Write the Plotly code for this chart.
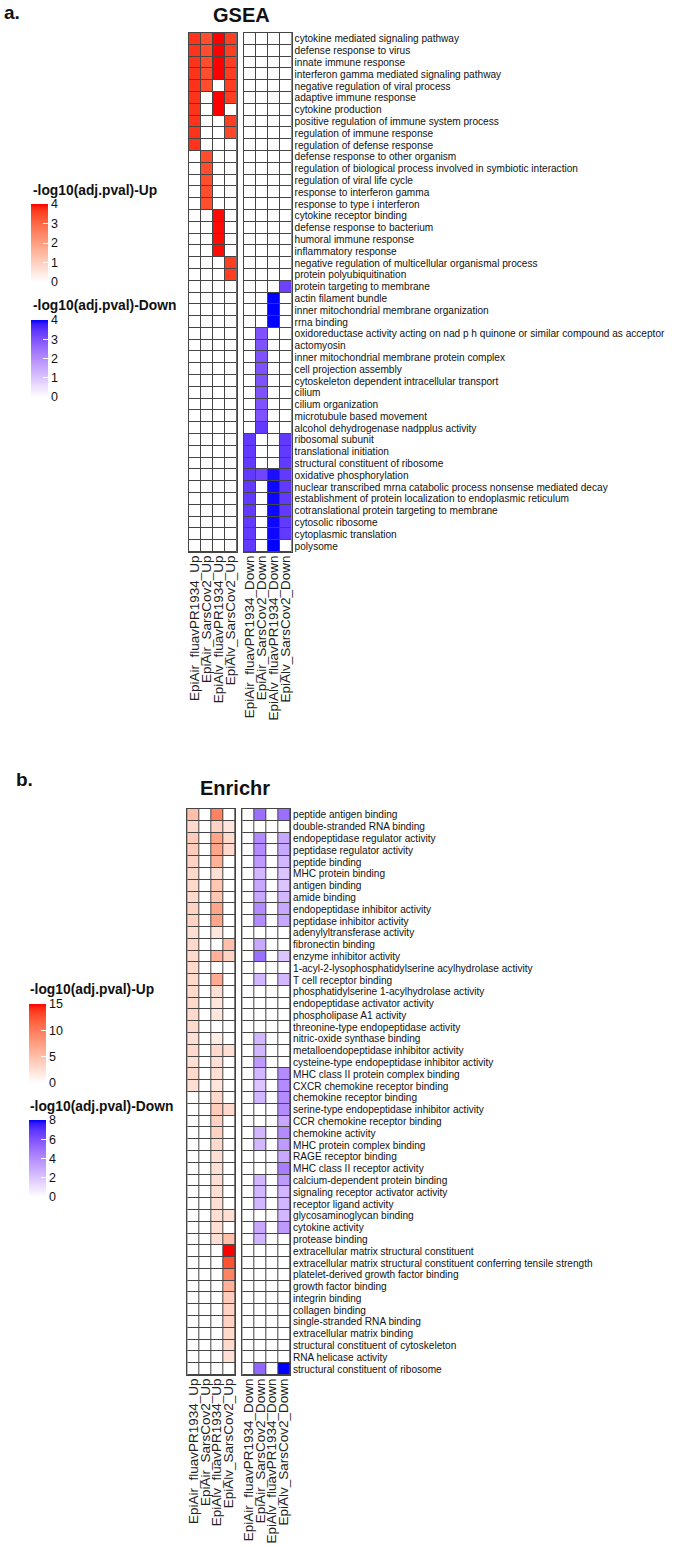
import plotly.graph_objects as go

# ---------------- DATA ----------------
GSEA_TERMS = [
    "cytokine mediated signaling pathway", "defense response to virus", "innate immune response",
    "interferon gamma mediated signaling pathway", "negative regulation of viral process",
    "adaptive immune response", "cytokine production", "positive regulation of immune system process",
    "regulation of immune response", "regulation of defense response", "defense response to other organism",
    "regulation of biological process involved in symbiotic interaction", "regulation of viral life cycle",
    "response to interferon gamma", "response to type i interferon", "cytokine receptor binding",
    "defense response to bacterium", "humoral immune response", "inflammatory response",
    "negative regulation of multicellular organismal process", "protein polyubiquitination",
    "protein targeting to membrane", "actin filament bundle", "inner mitochondrial membrane organization",
    "rrna binding", "oxidoreductase activity acting on nad p h quinone or similar compound as acceptor",
    "actomyosin", "inner mitochondrial membrane protein complex", "cell projection assembly",
    "cytoskeleton dependent intracellular transport", "cilium", "cilium organization",
    "microtubule based movement", "alcohol dehydrogenase nadpplus activity", "ribosomal subunit",
    "translational initiation", "structural constituent of ribosome", "oxidative phosphorylation",
    "nuclear transcribed mrna catabolic process nonsense mediated decay",
    "establishment of protein localization to endoplasmic reticulum",
    "cotranslational protein targeting to membrane", "cytosolic ribosome", "cytoplasmic translation",
    "polysome",
]
UP_COLS = ["EpiAir_fluavPR1934_Up", "EpiAir_SarsCov2_Up", "EpiAlv_fluavPR1934_Up", "EpiAlv_SarsCov2_Up"]
DOWN_COLS = ["EpiAir_fluavPR1934_Down", "EpiAir_SarsCov2_Down", "EpiAlv_fluavPR1934_Down", "EpiAlv_SarsCov2_Down"]

GSEA_UP = [
    [3.7, 3.4, 4.0, 3.6], [3.7, 3.4, 4.0, 3.6], [3.7, 3.4, 4.0, 3.6], [3.7, 3.4, 4.0, 3.6],
    [3.7, 3.4, 0, 3.6], [3.7, 0, 4.0, 3.6], [3.7, 0, 4.0, 0], [3.7, 0, 0, 3.6],
    [3.7, 0, 0, 3.5], [3.7, 0, 0, 0],
    [0, 3.4, 0, 0], [0, 3.4, 0, 0], [0, 3.4, 0, 0], [0, 3.4, 0, 0], [0, 3.4, 0, 0],
    [0, 0, 3.95, 0], [0, 0, 3.95, 0], [0, 0, 3.95, 0], [0, 0, 3.95, 0],
    [0, 0, 0, 3.6], [0, 0, 0, 3.6],
    [0, 0, 0, 0], [0, 0, 0, 0], [0, 0, 0, 0], [0, 0, 0, 0], [0, 0, 0, 0], [0, 0, 0, 0],
    [0, 0, 0, 0], [0, 0, 0, 0], [0, 0, 0, 0], [0, 0, 0, 0], [0, 0, 0, 0], [0, 0, 0, 0],
    [0, 0, 0, 0], [0, 0, 0, 0], [0, 0, 0, 0], [0, 0, 0, 0], [0, 0, 0, 0], [0, 0, 0, 0],
    [0, 0, 0, 0], [0, 0, 0, 0], [0, 0, 0, 0], [0, 0, 0, 0], [0, 0, 0, 0],
]
GSEA_DOWN = [
    [0, 0, 0, 0], [0, 0, 0, 0], [0, 0, 0, 0], [0, 0, 0, 0], [0, 0, 0, 0], [0, 0, 0, 0],
    [0, 0, 0, 0], [0, 0, 0, 0], [0, 0, 0, 0], [0, 0, 0, 0], [0, 0, 0, 0], [0, 0, 0, 0],
    [0, 0, 0, 0], [0, 0, 0, 0], [0, 0, 0, 0], [0, 0, 0, 0], [0, 0, 0, 0], [0, 0, 0, 0],
    [0, 0, 0, 0], [0, 0, 0, 0], [0, 0, 0, 0],
    [0, 0, 0, 3.25],
    [0, 0, 4.0, 0], [0, 0, 4.0, 0], [0, 0, 4.0, 0],
    [0, 3.0, 0, 0], [0, 3.0, 0, 0], [0, 3.0, 0, 0], [0, 3.0, 0, 0], [0, 3.0, 0, 0],
    [0, 3.0, 0, 0], [0, 3.0, 0, 0], [0, 3.0, 0, 0], [0, 3.4, 0, 0],
    [3.4, 0, 0, 3.4], [3.4, 0, 0, 3.4], [3.4, 0, 0, 3.4],
    [3.4, 3.2, 3.9, 3.4],
    [3.4, 0, 3.95, 3.4], [3.4, 0, 3.95, 3.4], [3.4, 0, 3.95, 3.4], [3.4, 0, 3.95, 3.4],
    [3.4, 0, 3.95, 3.4],
    [3.4, 0, 4.0, 0],
]

ENR_TERMS = [
    "peptide antigen binding", "double-stranded RNA binding", "endopeptidase regulator activity",
    "peptidase regulator activity", "peptide binding", "MHC protein binding", "antigen binding",
    "amide binding", "endopeptidase inhibitor activity", "peptidase inhibitor activity",
    "adenylyltransferase activity", "fibronectin binding", "enzyme inhibitor activity",
    "1-acyl-2-lysophosphatidylserine acylhydrolase activity", "T cell receptor binding",
    "phosphatidylserine 1-acylhydrolase activity", "endopeptidase activator activity",
    "phospholipase A1 activity", "threonine-type endopeptidase activity", "nitric-oxide synthase binding",
    "metalloendopeptidase inhibitor activity", "cysteine-type endopeptidase inhibitor activity",
    "MHC class II protein complex binding", "CXCR chemokine receptor binding",
    "chemokine receptor binding", "serine-type endopeptidase inhibitor activity",
    "CCR chemokine receptor binding", "chemokine activity", "MHC protein complex binding",
    "RAGE receptor binding", "MHC class II receptor activity", "calcium-dependent protein binding",
    "signaling receptor activator activity", "receptor ligand activity", "glycosaminoglycan binding",
    "cytokine activity", "protease binding", "extracellular matrix structural constituent",
    "extracellular matrix structural constituent conferring tensile strength",
    "platelet-derived growth factor binding", "growth factor binding", "integrin binding",
    "collagen binding", "single-stranded RNA binding", "extracellular matrix binding",
    "structural constituent of cytoskeleton", "RNA helicase activity", "structural constituent of ribosome",
]
ENR_UP = [
    [5, 0, 9.5, 0], [3, 0, 3.5, 2], [4, 0, 7, 3], [4, 0, 7, 3], [3.5, 0, 6, 0],
    [3, 0, 2.5, 0], [3, 0, 4.5, 0], [3, 0, 4.5, 0], [3.5, 0, 7, 0], [3.5, 0, 7, 0],
    [2.5, 0, 2, 0], [3, 0, 0, 5], [3, 0, 6, 3.5], [3, 0, 0, 0], [3, 0, 6.5, 0],
    [3, 0, 2.5, 0], [3, 0, 2, 0], [3, 0, 2, 0], [3, 0, 0, 0], [2.5, 0, 1.5, 0],
    [3, 0, 3, 2.5], [2.5, 0, 2.5, 0], [3, 0, 2.5, 0], [2.5, 0, 2, 0], [0, 0, 3, 0],
    [0, 0, 4, 3], [0, 0, 3.5, 0], [0, 0, 3.5, 0], [0, 0, 3, 0], [0, 0, 2.5, 0],
    [0, 0, 2.5, 0], [0, 0, 2.5, 0], [0, 0, 2.5, 0], [0, 0, 2.5, 0], [0, 0, 2.5, 2.5],
    [0, 0, 2.5, 0], [0, 0, 2.5, 5], [0, 0, 0, 15], [0, 0, 0, 12.5], [0, 0, 0, 9.5],
    [0, 0, 0, 6], [0, 0, 0, 4], [0, 0, 0, 3.5], [0, 0, 0, 3.5], [0, 0, 0, 3],
    [0, 0, 0, 3], [0, 0, 0, 2.5], [0, 0, 0, 0],
]
ENR_DOWN = [
    [0, 5, 0, 5], [0, 0, 0, 0], [0, 4, 0, 3], [0, 4, 0, 3], [0, 3.5, 0, 2.5],
    [0, 2.5, 0, 2], [0, 3, 0, 2], [0, 3, 0, 2.5], [0, 4, 0, 3], [0, 4, 0, 3],
    [0, 0, 0, 0], [0, 3, 0, 0], [0, 5, 0, 2], [0, 0, 0, 0], [0, 2.5, 0, 2.5],
    [0, 0, 0, 0], [0, 0, 0, 0], [0, 0, 0, 0], [0, 0, 0, 0], [0, 2.5, 0, 0],
    [0, 2.5, 0, 0], [0, 3.5, 0, 0], [0, 2.5, 0, 4], [0, 2, 0, 4], [0, 2.5, 0, 4],
    [0, 0, 0, 4], [0, 0, 0, 3], [0, 2.5, 0, 4], [0, 2.5, 0, 3.5], [0, 0, 0, 3],
    [0, 0, 0, 4.5], [0, 2.5, 0, 3.5], [0, 2.5, 0, 2.5], [0, 2.5, 0, 2.5], [0, 0, 0, 2.5],
    [0, 3, 0, 3.5], [0, 2.5, 0, 0], [0, 0, 0, 0], [0, 0, 0, 0], [0, 0, 0, 0],
    [0, 0, 0, 0], [0, 0, 0, 0], [0, 0, 0, 0], [0, 0, 0, 0], [0, 0, 0, 0],
    [0, 0, 0, 0], [0, 0, 0, 0], [0, 5.3, 0, 8],
]

GSEA_UP_TICKS = [0, 1, 2, 3, 4]
GSEA_DOWN_TICKS = [0, 1, 2, 3, 4]
ENR_UP_TICKS = [0, 5, 10, 15]
ENR_DOWN_TICKS = [0, 2, 4, 6, 8]

# ---------------- colour helpers (LAB interpolation like colorRamp2) ----------------
def _s2l(c):
    c = c / 255.0
    return c / 12.92 if c <= 0.04045 else ((c + 0.055) / 1.055) ** 2.4

def _l2s(c):
    c = max(0.0, min(1.0, c))
    v = 12.92 * c if c <= 0.0031308 else 1.055 * c ** (1 / 2.4) - 0.055
    return int(round(max(0, min(1, v)) * 255))

WN = (0.95047, 1.0, 1.08883)

def _f(t):
    return t ** (1 / 3) if t > 0.008856 else 7.787 * t + 16 / 116

def _finv(t):
    return t ** 3 if t ** 3 > 0.008856 else (t - 16 / 116) / 7.787

def rgb2lab(rgb):
    r, g, b = [_s2l(v) for v in rgb]
    X = 0.4124 * r + 0.3576 * g + 0.1805 * b
    Y = 0.2126 * r + 0.7152 * g + 0.0722 * b
    Z = 0.0193 * r + 0.1192 * g + 0.9505 * b
    fx, fy, fz = _f(X / WN[0]), _f(Y / WN[1]), _f(Z / WN[2])
    return (116 * fy - 16, 500 * (fx - fy), 200 * (fy - fz))

def lab2rgb(lab):
    L, a, b = lab
    fy = (L + 16) / 116
    fx = fy + a / 500
    fz = fy - b / 200
    X, Y, Z = _finv(fx) * WN[0], _finv(fy) * WN[1], _finv(fz) * WN[2]
    r = 3.2406 * X - 1.5372 * Y - 0.4986 * Z
    g = -0.9689 * X + 1.8758 * Y + 0.0415 * Z
    bb = 0.0557 * X - 0.2040 * Y + 1.0570 * Z
    return "rgb(%d,%d,%d)" % (_l2s(r), _l2s(g), _l2s(bb))

def lab_scale(c1, c2, n=21):
    l1, l2 = rgb2lab(c1), rgb2lab(c2)
    out = []
    for i in range(n):
        t = i / (n - 1)
        out.append([t, lab2rgb(tuple(l1[k] + (l2[k] - l1[k]) * t for k in range(3)))])
    return out

RED_SCALE = lab_scale((255, 255, 255), (255, 0, 0))
BLUE_SCALE = lab_scale((255, 255, 255), (0, 0, 255))

# ---------------- layout geometry (pixels) ----------------
W, H = 685, 1547
FONT = "Liberation Sans, Arial, Helvetica, sans-serif"
GRID = "#454545"

def px(x):
    return x / W

def py(y):
    return 1 - y / H

fig = go.Figure()

panels = [
    (GSEA_TERMS, GSEA_UP, GSEA_DOWN, (189, 236.8), (244, 291.6), (33, 552), "coloraxis", "coloraxis2"),
    (ENR_TERMS, ENR_UP, ENR_DOWN, (187.3, 235), (242.3, 290), (809, 1375), "coloraxis3", "coloraxis4"),
]

layout_axes = {}
ax_i = 1
for terms, up, down, xu, xd, yr, ca_up, ca_dn in panels:
    for block, cols, xr, ca, show_y in ((up, UP_COLS, xu, ca_up, False), (down, DOWN_COLS, xd, ca_dn, True)):
        sx = "" if ax_i == 1 else str(ax_i)
        fig.add_trace(go.Heatmap(
            z=block, x=cols, y=terms, coloraxis=ca, xgap=1, ygap=1,
            xaxis="x" + sx, yaxis="y" + sx, hoverongaps=False,
        ))
        layout_axes["xaxis" + sx] = dict(
            domain=[px(xr[0]), px(xr[1])], anchor="y" + sx, type="category",
            tickmode="array", tickvals=cols, ticktext=cols, automargin=False,
            tickangle=-90, tickfont=dict(family=FONT, size=13.5, color="#222"),
            ticks="", showgrid=False, zeroline=False, showline=True, mirror=True,
            linecolor=GRID, linewidth=1, ticklabelstandoff=-3,
        )
        layout_axes["yaxis" + sx] = dict(
            domain=[py(yr[1]), py(yr[0])], anchor="x" + sx, type="category",
            tickmode="array", tickvals=terms, ticktext=terms, automargin=False,
            autorange="reversed", showticklabels=show_y, side="right",
            tickfont=dict(family=FONT, size=10.1, color="#111"),
            ticks="", showgrid=False, zeroline=False, showline=True, mirror=True,
            linecolor=GRID, linewidth=1, ticklabelstandoff=0,
        )
        ax_i += 1

def cbar(x, top, bottom, ticks):
    return dict(
        x=px(x), xanchor="left", xpad=0, ypad=0,
        y=py(top), yanchor="top", lenmode="pixels", len=bottom - top,
        thicknessmode="pixels", thickness=17, outlinewidth=0,
        tickvals=ticks, ticks="inside", tickcolor="white", ticklen=5, tickwidth=1,
        tickfont=dict(family=FONT, size=12.5, color="#111"),
    )

fig.update_layout(
    width=W, height=H, margin=dict(l=0, r=0, t=0, b=0),
    paper_bgcolor="white", plot_bgcolor=GRID, showlegend=False,
    coloraxis=dict(colorscale=RED_SCALE, cmin=0, cmax=4, colorbar=cbar(31, 204, 282, GSEA_UP_TICKS)),
    coloraxis2=dict(colorscale=BLUE_SCALE, cmin=0, cmax=4, colorbar=cbar(31, 320, 397, GSEA_DOWN_TICKS)),
    coloraxis3=dict(colorscale=RED_SCALE, cmin=0, cmax=15, colorbar=cbar(29, 1004, 1083, ENR_UP_TICKS)),
    coloraxis4=dict(colorscale=BLUE_SCALE, cmin=0, cmax=8, colorbar=cbar(29, 1120, 1197, ENR_DOWN_TICKS)),
    **layout_axes,
)

def ann(text, x, y, size, xanchor="left", bold=True):
    fig.add_annotation(
        text=("<b>%s</b>" % text) if bold else text, x=px(x), y=py(y), xref="paper", yref="paper",
        xanchor=xanchor, yanchor="middle", showarrow=False,
        font=dict(family=FONT, size=size, color="#111"),
    )

ann("a.", 2, 13, 19)
ann("b.", 14, 779, 19)
ann("GSEA", 241.5, 15, 20, xanchor="center")
ann("Enrichr", 234.5, 788, 20, xanchor="center")
ann("-log10(adj.pval)-Up", 31, 190, 13.8)
ann("-log10(adj.pval)-Down", 31, 306, 13.8)
ann("-log10(adj.pval)-Up", 28, 990, 13.8)
ann("-log10(adj.pval)-Down", 28, 1106, 13.8)

fig.write_html("out.html", config={"displayModeBar": False},
               post_script="document.body.style.margin='0px';")
